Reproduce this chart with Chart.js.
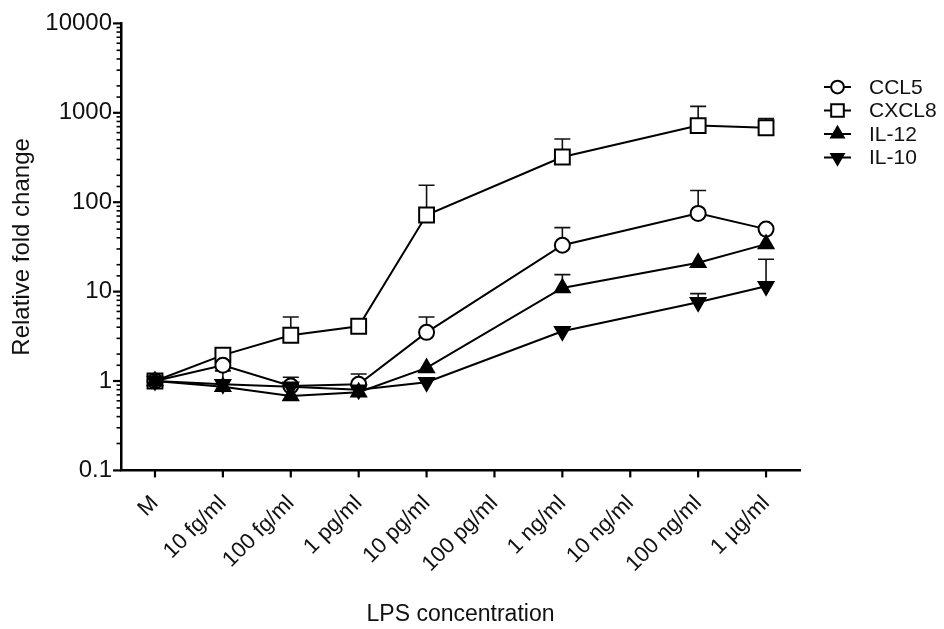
<!DOCTYPE html>
<html>
<head>
<meta charset="utf-8">
<script src="https://cdn.jsdelivr.net/npm/chart.js@4"></script>
<style>
  html, body { margin: 0; padding: 0; background: #fff; }
  #wrap { width: 944px; height: 629px; }
</style>
</head>
<body>
<div id="wrap"><canvas id="lps"></canvas></div>
<script>
const categories = ['M', '10 fg/ml', '100 fg/ml', '1 pg/ml', '10 pg/ml', '100 pg/ml', '1 ng/ml', '10 ng/ml', '100 ng/ml', '1 µg/ml'];

// mean fold change per dose (null = dose not tested)
const ccl5  = [1, 1.5, 0.88, 0.92, 3.5, null, 33, null, 75, 50];
const cxcl8 = [1, 1.95, 3.25, 4.1, 72, null, 320, null, 720, 680];
const il12  = [1, 0.86, 0.68, 0.75, 1.4, null, 11, null, 21, 34];
const il10  = [1, 0.92, 0.86, 0.8, 0.97, null, 3.6, null, 7.6, 11.5];

// top of the upper error bar (mean + SD), null where no bar is visible
const ccl5Top  = [null, null, 1.1, 1.2, 5.2, null, 52, null, 135, null];
const cxcl8Top = [null, null, 5.2, null, 155, null, 510, null, 1180, 860];
const il12Top  = [null, 1.3, null, null, null, null, 15.5, null, null, null];
const il10Top  = [null, null, null, null, null, null, null, null, 9.5, 23];

const yTickLabels = ['0.1', '1', '10', '100', '1000', '10000'];

const FONT = '"Liberation Sans", Arial, sans-serif';

// order: lower numbers are painted last, so the filled triangles sit on top
const series = [
	{ label: 'CCL5',  data: ccl5,  top: ccl5Top,  pointStyle: 'circle',   radius: 7.5,  rotation: 0,   fill: '#fff', order: 3 },
	{ label: 'CXCL8', data: cxcl8, top: cxcl8Top, pointStyle: 'rect',     radius: 10.5, rotation: 0,   fill: '#fff', order: 4 },
	{ label: 'IL-12', data: il12,  top: il12Top,  pointStyle: 'triangle', radius: 8.5,  rotation: 0,   fill: '#000', order: 2 },
	{ label: 'IL-10', data: il10,  top: il10Top,  pointStyle: 'triangle', radius: 8.5,  rotation: 180, fill: '#000', order: 1 },
];

const isPow10 = v => Math.abs(Math.log10(v) - Math.round(Math.log10(v))) < 1e-9;

// upward error bars, drawn under the markers
const errorBars = {
	id: 'errorBars',
	beforeDatasetsDraw(chart) {
		const ctx = chart.ctx;
		const y = chart.scales.y;
		ctx.save();
		ctx.strokeStyle = '#111';
		ctx.lineWidth = 1.6;
		chart.data.datasets.forEach((ds, i) => {
			const meta = chart.getDatasetMeta(i);
			ds.top.forEach((t, j) => {
				if (t === null || ds.data[j] === null) return;
				const pt = meta.data[j];
				const yt = y.getPixelForValue(t);
				ctx.beginPath();
				ctx.moveTo(pt.x, pt.y);
				ctx.lineTo(pt.x, yt);
				ctx.moveTo(pt.x - 8, yt);
				ctx.lineTo(pt.x + 8, yt);
				ctx.stroke();
			});
		});
		ctx.restore();
	}
};

// outside tick marks: long at decades, short in between; short marks under categories
const tickMarks = {
	id: 'tickMarks',
	afterDraw(chart) {
		const ctx = chart.ctx;
		const ys = chart.scales.y;
		const xs = chart.scales.x;
		const left = chart.chartArea.left;
		const bottom = chart.chartArea.bottom;
		ctx.save();
		ctx.strokeStyle = '#000';
		ys.ticks.forEach(t => {
			const py = ys.getPixelForValue(t.value);
			const major = isPow10(t.value);
			ctx.lineWidth = major ? 2.2 : 1.6;
			ctx.beginPath();
			ctx.moveTo(left, py);
			ctx.lineTo(left - (major ? 8 : 4.5), py);
			ctx.stroke();
		});
		ctx.lineWidth = 2.2;
		categories.forEach((c, i) => {
			const px = xs.getPixelForValue(i);
			ctx.beginPath();
			ctx.moveTo(px, bottom);
			ctx.lineTo(px, bottom + 7);
			ctx.stroke();
		});
		ctx.restore();
	}
};

// legend: short line with the marker on it, then the name
const sideLegend = {
	id: 'sideLegend',
	afterDraw(chart) {
		const ctx = chart.ctx;
		const x0 = chart.chartArea.right + 24;
		const y0 = 87;
		ctx.save();
		ctx.font = '21px ' + FONT;
		ctx.textBaseline = 'middle';
		series.forEach((s, i) => {
			const yy = y0 + i * 23.5;
			ctx.strokeStyle = '#000';
			ctx.lineWidth = 2;
			ctx.beginPath();
			ctx.moveTo(x0, yy);
			ctx.lineTo(x0 + 27, yy);
			ctx.stroke();
			ctx.fillStyle = s.fill;
			Chart.helpers.drawPoint(ctx, {
				pointStyle: s.pointStyle,
				radius: s.radius * 0.85,
				rotation: s.rotation,
				borderWidth: 2
			}, x0 + 13.5, yy);
			ctx.fillStyle = '#111';
			ctx.fillText(s.label, x0 + 45, yy + 1);
		});
		ctx.restore();
	}
};

const datasets = series.map(s => ({
	label: s.label,
	data: s.data,
	top: s.top,
	order: s.order,
	borderColor: '#000',
	borderWidth: 2,
	backgroundColor: s.fill,
	pointStyle: s.pointStyle,
	pointRadius: s.radius,
	pointHoverRadius: s.radius,
	pointRotation: s.rotation,
	pointBorderWidth: 2,
	pointBackgroundColor: s.fill,
	pointBorderColor: '#000',
	spanGaps: true,
	tension: 0,
}));

Chart.defaults.font.family = FONT;
Chart.defaults.color = '#111';

new Chart(document.getElementById('lps'), {
	type: 'line',
	data: { labels: categories, datasets: datasets },
	options: {
		responsive: true,
		maintainAspectRatio: false,
		animation: false,
		layout: { padding: { top: 2, right: 144, left: 7.5, bottom: 1 } },
		plugins: {
			legend: { display: false },
			tooltip: { enabled: false },
		},
		scales: {
			x: {
				type: 'category',
				offset: true,
				grid: { display: false, drawTicks: false },
				border: { display: true, color: '#000', width: 2.5 },
				ticks: {
					autoSkip: false,
					maxRotation: 45,
					minRotation: 45,
					padding: 20,
					color: '#111',
					font: { size: 22 },
				},
				title: {
					display: true,
					text: 'LPS concentration',
					color: '#111',
					font: { size: 23 },
					padding: { top: 3, bottom: 0 },
				},
			},
			y: {
				type: 'logarithmic',
				min: 0.1,
				max: 10000,
				grid: { display: false, drawTicks: false },
				border: { display: true, color: '#000', width: 2.5 },
				ticks: {
					autoSkip: false,
					padding: 9,
					color: '#111',
					font: { size: 24 },
					callback: value => {
						if (!isPow10(value)) return '';
						const lbl = yTickLabels.find(l => Math.abs(parseFloat(l) - value) < value * 1e-6);
						return lbl || '';
					},
				},
				title: {
					display: true,
					text: 'Relative fold change',
					color: '#111',
					font: { size: 24 },
					padding: { top: 0, bottom: 0 },
				},
			},
		},
	},
	plugins: [errorBars, tickMarks, sideLegend],
});
</script>
</body>
</html>
